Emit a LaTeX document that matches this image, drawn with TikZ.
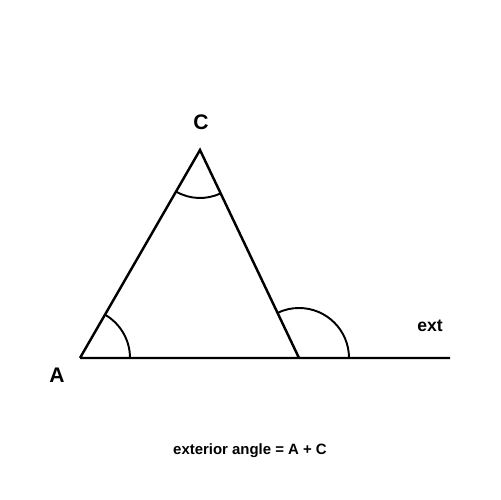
\documentclass[tikz,border=0pt]{standalone}
\usepackage{fontspec}
\setmainfont{Liberation Sans}
\usepackage{tikz}

\begin{document}
\begin{tikzpicture}[x=0.02cm,y=0.02cm,line width=1.4pt,font=\bfseries]
    \useasboundingbox (0,0) rectangle (500,500);
    \coordinate (A) at (80,142);
    \coordinate (B) at (299,142);
    \coordinate (C) at (200,350);
    \coordinate (E) at (450,142);
    \draw (A) -- (C) -- (B) (A) -- (E);
    \draw[line width=1.1pt] (A) ++(0:50) arc (0:60:50)
    (C) ++(-120:48) arc (-120:-64.5:48)
    (B) ++(0:50) arc (0:115.5:50);
    \node[font=\bfseries\fontsize{12}{14}\selectfont] (labC) at (201,378) {C};
    \node[font=\bfseries\fontsize{12}{14}\selectfont] (labA) at (57,125) {A};
    \node[font=\bfseries\fontsize{10}{12}\selectfont] (ext) at (430,174) {ext};
    \node[font=\bfseries\fontsize{8.5}{10}\selectfont] (rule) at (250,49) {exterior angle = A + C};
  \end{tikzpicture}
\end{document}
